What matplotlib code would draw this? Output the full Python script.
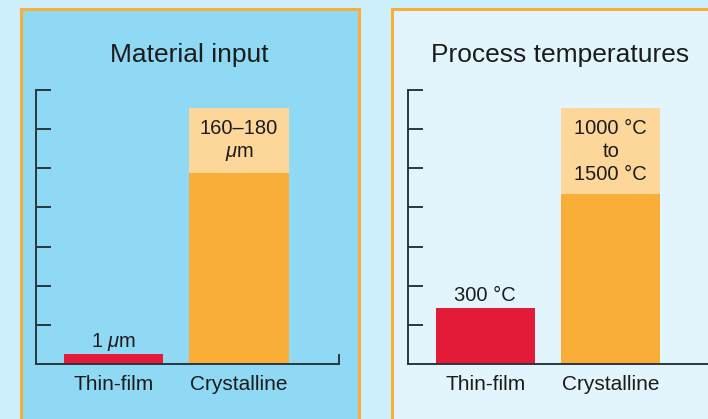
import matplotlib.pyplot as plt
from matplotlib.patches import Rectangle

# data (axis units, 7 ticks high)
categories = ['Thin-film', 'Crystalline']
material_base = [0.255, 4.87]
material_top = [None, 6.53]
temp_base = [1.43, 4.34]
temp_top = [None, 6.53]
material_labels = [r'1 $\mu$m', '160\u2013180\n' + r'$\mu$m']
temp_labels = ['300 °C', '1000 °C\nto\n1500 °C']
titles = ['Material input', 'Process temperatures']

# colours
bg = '#cdeefb'
panel_cols = ['#8fd9f5', '#e2f5fc']
border = '#f8ae3b'
red = '#e31a38'
orange = '#f9ae38'
light_orange = '#fdd69a'
axis_col = '#2a3640'
text_col = '#1c1c1c'

plt.rcParams['font.family'] = ['Liberation Sans', 'DejaVu Sans']
plt.rcParams['mathtext.fontset'] = 'custom'
plt.rcParams['mathtext.rm'] = 'Liberation Sans'
plt.rcParams['mathtext.it'] = 'Liberation Sans:italic'

W, H = 708, 419
fig = plt.figure(figsize=(W / 100, H / 100), dpi=100)
fig.patch.set_facecolor(bg)

def fx(px):
    return px / W

def fy(py):
    return 1 - py / H

# panels
panel_x = [20.5, 391.5]
for px, col in zip(panel_x, panel_cols):
    fig.add_artist(Rectangle((fx(px), fy(440)), 338 / W, 430.5 / H,
                             transform=fig.transFigure, facecolor=col,
                             edgecolor=border, linewidth=2.2, zorder=-10))

title_x = [189, 560]
for tx, t in zip(title_x, titles):
    fig.text(fx(tx), fy(55), t, ha='center', va='center', fontsize=19, color=text_col)

axes_x = [36, 407.7]
data = [(material_base, material_top, material_labels),
        (temp_base, temp_top, temp_labels)]

for axx, (base, top, labels) in zip(axes_x, data):
    ax = fig.add_axes([fx(axx), fy(364), 303 / W, 274 / H])
    ax.set_zorder(5)
    ax.set_facecolor('none')
    ax.set_xlim(-0.618, 1.797)
    ax.set_ylim(0, 7)
    x = range(len(categories))
    ax.bar(x, base, width=0.79, color=[red, orange], zorder=2)
    ax.bar(1, top[1] - base[1], bottom=base[1], width=0.79, color=light_orange, zorder=2)

    # labels
    ax.annotate(labels[0], (0, base[0]), xytext=(0, 5), textcoords='offset points',
                ha='center', va='baseline', fontsize=14.5, color=text_col)
    ax.text(1, (base[1] + top[1]) / 2, labels[1], ha='center', va='center',
            fontsize=14.5, color=text_col, linespacing=1.28)

    ax.spines['top'].set_visible(False)
    ax.spines['right'].set_bounds(0, 0.23)
    for s in ['left', 'bottom', 'right']:
        ax.spines[s].set_color(axis_col)
        ax.spines[s].set_linewidth(1.4)
    ax.set_yticks(range(1, 8))
    ax.set_yticklabels([])
    ax.tick_params(axis='y', direction='in', length=10.8, width=1.4, color=axis_col)
    ax.set_xticks(list(x))
    ax.set_xticklabels(categories, fontsize=15, color=text_col)
    ax.tick_params(axis='x', length=0, pad=8)

fig.savefig('out.png', dpi=100, facecolor=bg)
